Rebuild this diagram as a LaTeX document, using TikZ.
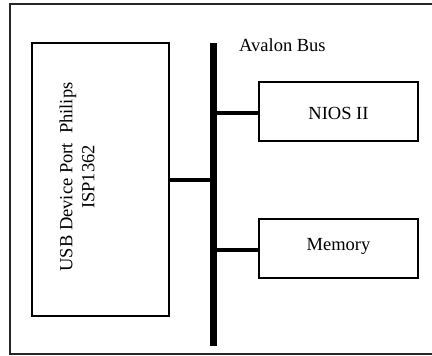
\documentclass[tikz,border=0pt]{standalone}
\usepackage{fontspec}
\setmainfont{Liberation Serif}
\begin{document}
\begin{tikzpicture}[x=1pt,y=-1pt,
  blk/.style={draw=black,line width=1.8pt,fill=white},
  lbl/.style={font=\fontsize{18.5}{22}\selectfont,align=center,inner sep=0pt},
  link/.style={line width=3.5pt},
  frame/.style={draw=black!85,line width=1.5pt}]
\useasboundingbox (0,0) rectangle (432,356);
\draw[frame] (440,4) -- (10,4) -- (10,354) -- (440,354);
\node[blk,minimum width=137pt,minimum height=273pt,inner sep=0pt] (usb) at (100.5,179.5) {};
\node[lbl,rotate=90] (usbt) at (77,177) {USB Device Port\ \ Philips\\ISP1362};
\node[fill=black,minimum width=7pt,minimum height=303pt,inner sep=0pt] (bus) at (213.5,194.5) {};
\node[lbl,anchor=base west] (avl) at (239,52) {Avalon Bus};
\node[blk,minimum width=159pt,minimum height=59pt,inner sep=0pt] (nios) at (338.5,111.5) {};
\node[lbl] (niost) at (338.5,113) {NIOS II};
\node[blk,minimum width=159pt,minimum height=59pt,inner sep=0pt] (mem) at (338.5,248.5) {};
\node[lbl] (memt) at (338.5,246) {Memory};
\draw[link] (usb.east |- 0,180) -- (bus.west |- 0,180);
\draw[link] (bus.east |- 0,113) -- (nios.west |- 0,113);
\draw[link] (bus.east |- 0,250) -- (mem.west |- 0,250);
\end{tikzpicture}
\end{document}
